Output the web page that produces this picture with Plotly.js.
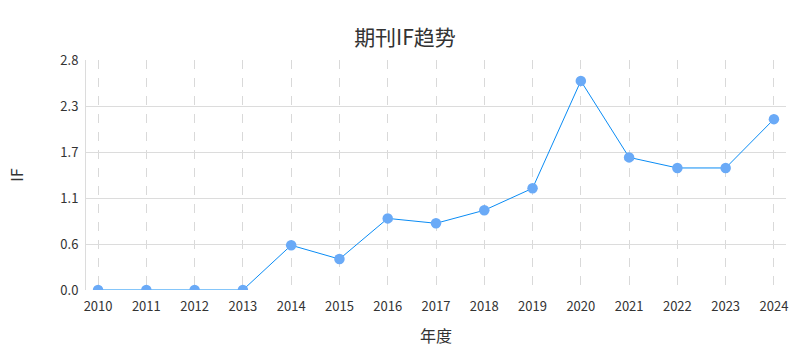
<!DOCTYPE html>
<html>
<head>
<meta charset="utf-8">
<script src="https://cdn.plot.ly/plotly-3.0.1.min.js"></script>
<style>html,body{margin:0;padding:0;background:#fff;}#chart{width:810px;height:360px;}</style>
</head>
<body>
<div id="chart"></div>
<script>
const years = [2010, 2011, 2012, 2013, 2014, 2015, 2016, 2017, 2018, 2019, 2020, 2021, 2022, 2023, 2024];
const ifValues = [0, 0, 0, 0, 0.55, 0.38, 0.88, 0.82, 0.98, 1.25, 2.57, 1.63, 1.50, 1.50, 2.10];
const yMax = 2.827;
const yTickVals = [0, 0.2, 0.4, 0.6, 0.8, 1.0].map(f => f * yMax);
const yTickText = yTickVals.map(v => v.toFixed(1));

const font = "'Noto Sans CJK SC', 'Noto Sans', sans-serif";

Plotly.newPlot('chart', [{
  x: years,
  y: ifValues,
  type: 'scatter',
  mode: 'lines+markers',
  line: {color: '#0a8cf5', width: 1},
  marker: {color: '#6aaaf7', size: 10.5},
  hoverinfo: 'x+y'
}], {
  width: 810,
  height: 360,
  margin: {l: 86, r: 24, t: 60, b: 70},
  paper_bgcolor: '#fff',
  plot_bgcolor: '#fff',
  font: {family: font, size: 13, color: '#333'},
  title: {text: '期刊IF趋势', x: 0.5, xanchor: 'center', y: 0.895, yanchor: 'middle', font: {family: font, size: 21, color: '#333'}},
  showlegend: false,
  xaxis: {
    range: [2009.75, 2024.25],
    tickvals: years,
    ticktext: years.map(String),
    showgrid: true,
    gridcolor: '#d9d9d9',
    griddash: 'dash',
    gridwidth: 1,
    zeroline: false,
    showline: false,
    ticks: '',
    ticklabelstandoff: 7,
    tickfont: {size: 13, color: '#333'},
    automargin: false,
    title: {text: '年度', font: {size: 16, color: '#333'}, standoff: 16}
  },
  yaxis: {
    range: [0, yMax],
    tickvals: yTickVals,
    ticktext: yTickText,
    showgrid: true,
    gridcolor: '#dcdcdc',
    gridwidth: 1,
    zeroline: false,
    showline: true,
    linecolor: '#dcdcdc',
    linewidth: 1,
    ticks: '',
    ticklabelstandoff: 4,
    tickfont: {size: 13, color: '#333'},
    automargin: false,
    title: {text: 'IF', font: {size: 16, color: '#333'}, standoff: 32}
  }
}, {displayModeBar: false});
</script>
</body>
</html>
